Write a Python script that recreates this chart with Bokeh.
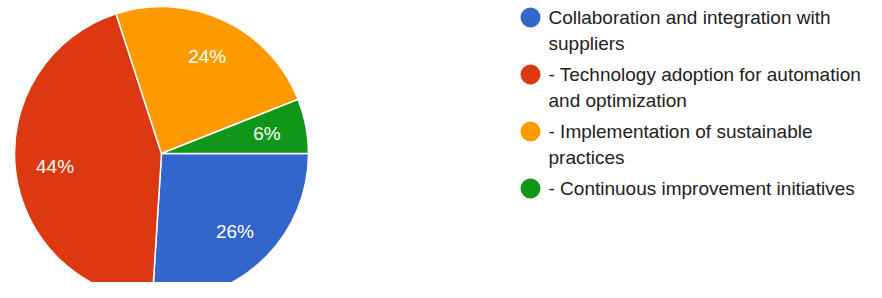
import math
from bokeh.plotting import figure
from bokeh.models import Range1d, ColumnDataSource
from bokeh.core.properties import value
from bokeh.embed import file_html
from bokeh.resources import INLINE

categories = [
    "Collaboration and integration with\nsuppliers",
    "- Technology adoption for automation\nand optimization",
    "- Implementation of sustainable\npractices",
    "- Continuous improvement initiatives",
]
shares = [26, 44, 24, 6]
pct_labels = ["26%", "44%", "24%", "6%"]
colors = ["#3366cc", "#dc3912", "#ff9900", "#109618"]

W, H = 866, 282
p = figure(width=W, height=H, output_backend="svg", toolbar_location=None,
           x_range=Range1d(0, W), y_range=Range1d(0, H),
           min_border=0)
p.axis.visible = False
p.grid.visible = False
p.outline_line_color = None
p.background_fill_color = "white"
p.border_fill_color = "white"

def Y(screen_y):
    return H - screen_y

cx, cy, R = 161, Y(153), 147
total = float(sum(shares))
starts, ends, lx, ly = [], [], [], []
cum = 0.0
for s in shares:
    a0 = cum / total
    cum += s
    a1 = cum / total
    # clockwise from 3 o'clock
    starts.append(-2 * math.pi * a1)
    ends.append(-2 * math.pi * a0)
    mid = -2 * math.pi * (a0 + a1) / 2
    lx.append(cx + 0.73 * R * math.cos(mid))
    ly.append(cy + 0.73 * R * math.sin(mid))

src = ColumnDataSource(dict(start=starts, end=ends, color=colors))
p.wedge(x=cx, y=cy, radius=R, start_angle="start", end_angle="end",
        fill_color="color", line_color="white", line_width=1.5, source=src)

p.text(x=lx, y=ly, text=pct_labels, text_color="white",
       text_font=value("Liberation Sans"), text_font_size="19px",
       text_align="center", text_baseline="middle")

# legend
leg_x_dot, leg_x_text = 530, 548
row_y = [17, 74, 131, 188]
line_h = 26
p.scatter(x=[leg_x_dot] * len(categories), y=[Y(v) for v in row_y],
          size=20, fill_color=colors, line_color=None)
tx, ty, tt = [], [], []
for cat, ry in zip(categories, row_y):
    for i, line in enumerate(cat.split("\n")):
        tx.append(leg_x_text)
        ty.append(Y(ry + i * line_h))
        tt.append(line)
p.text(x=tx, y=ty, text=tt, text_color="#222222",
       text_font=value("Liberation Sans"), text_font_size="19px",
       text_align="left", text_baseline="middle")

open("out.html", "w").write(file_html(p, INLINE))
